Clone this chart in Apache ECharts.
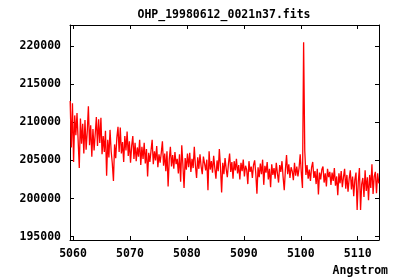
<!DOCTYPE html>
<html>
<head>
<meta charset="utf-8">
<script src="https://cdn.jsdelivr.net/npm/echarts@6/dist/echarts.min.js"></script>
<style>
html,body{margin:0;padding:0;background:#fff;}
#chart{width:400px;height:280px;}
</style>
</head>
<body>
<div id="chart"></div>
<script>
// Spectrum: wavelength grid start and step (Angstrom)
const wavelengthStart = 5059.5;
const wavelengthStep = 0.2;
// Flux values
const flux = [
212800,206700,212500,204800,210900,208300,211200,207600,204000,210500,
207200,209800,205900,210300,206400,208800,212100,207000,209600,205500,
209100,206300,208500,210700,206900,210400,207300,210600,205800,208200,
206100,208900,203000,207700,205400,209000,206200,204600,202300,207100,
205300,208000,209400,206100,209300,205900,207400,204800,208200,206300,
208800,205600,207500,204700,206900,208200,205200,207300,204900,206700,
205500,207700,204400,206800,205200,207300,204600,206500,202900,206000,
204800,206300,207700,204500,206200,205000,206900,204100,205800,204700,
206000,207500,204300,205900,203600,206200,201600,205100,206800,204200,
205700,203900,206100,204500,205200,203300,205800,202200,207000,204400,
201400,205300,203800,205900,204100,206000,203500,205200,204000,206800,
204300,202700,205400,203900,205800,204200,203200,205500,204600,203700,
205100,201100,206200,203800,204900,203400,205600,204000,202600,205000,
203600,206500,204100,200800,204700,203200,205300,203900,202800,204600,
205900,203500,204800,202600,204900,203700,205200,203300,204400,202500,
204700,203600,205100,202900,204300,203800,201900,204900,203500,204200,
202700,204400,205000,203300,200650,204100,202800,204600,203200,205100,
201800,204300,203400,204800,202500,203900,201500,204500,203100,204000,
202600,204700,203300,202100,204400,203500,204900,202800,201100,203800,
205700,203200,204500,202700,204100,203600,202400,204700,203000,204200,
202900,204000,205800,203300,201400,220500,206300,203100,204400,202600,
203800,202300,204100,204800,202700,203600,201900,203900,200550,203400,
202500,203800,204200,202100,203300,201600,203900,202800,203500,201800,
203400,202300,204000,201700,202900,200450,203300,202000,203600,201500,
202800,203900,201300,203100,200900,202600,203700,201200,202900,200300,
202500,203400,198500,202200,204000,198500,201900,202700,200200,203700,
201000,202800,199800,203100,201400,204500,200600,202900,203500,200700,
203300,202000
];
const xTicks = [5060, 5070, 5080, 5090, 5100, 5110];
const yTicks = [195000, 200000, 205000, 210000, 215000, 220000];
const titleText = 'OHP_19980612_0021n37.fits';
const xName = 'Angstrom';

const seriesData = flux.map((v, i) => [wavelengthStart + i * wavelengthStep, v]);

const font = 'DejaVu Sans Mono';
const chart = echarts.init(document.getElementById('chart'), null, {renderer: 'canvas'});
const xMin = 5059.47, xMax = 5113.74, yMin = 194570, yMax = 222750;

function xAx(pos, showLabel) {
  return {
    type: 'value', position: pos, min: xMin, max: xMax,
    axisLine: {show: true, onZero: false, lineStyle: {color: '#000', width: 1}},
    axisTick: {show: true, inside: true, length: 4, customValues: xTicks, lineStyle: {color: '#000'}},
    axisLabel: {show: showLabel, customValues: xTicks, formatter: v => String(Math.round(v)), color: '#000', fontFamily: font, fontWeight: 'bold', fontSize: 11.5, margin: 8},
    splitLine: {show: false}
  };
}
function yAx(pos, showLabel) {
  return {
    type: 'value', position: pos, min: yMin, max: yMax,
    axisLine: {show: true, onZero: false, lineStyle: {color: '#000', width: 1}},
    axisTick: {show: true, inside: true, length: 4, customValues: yTicks, lineStyle: {color: '#000'}},
    axisLabel: {show: showLabel, customValues: yTicks, formatter: v => String(Math.round(v)), color: '#000', fontFamily: font, fontWeight: 'bold', fontSize: 11.5, margin: 9},
    splitLine: {show: false}
  };
}

chart.setOption({
  animation: false,
  backgroundColor: '#fff',
  grid: {left: 70, top: 25, right: 21, bottom: 40, show: false},
  xAxis: [xAx('bottom', true), xAx('top', false)],
  yAxis: [yAx('left', true), yAx('right', false)],
  graphic: [
    {type: 'text', x: 224, y: 15, style: {text: titleText, fill: '#000', font: 'bold 11.5px "DejaVu Sans Mono"', textAlign: 'center', textVerticalAlign: 'middle'}},
    {type: 'text', x: 388, y: 271, style: {text: xName, fill: '#000', font: 'bold 11.5px "DejaVu Sans Mono"', textAlign: 'right', textVerticalAlign: 'middle'}}
  ],
  series: [{
    type: 'line', xAxisIndex: 0, yAxisIndex: 0,
    data: seriesData, showSymbol: false, sampling: 'none',
    lineStyle: {color: '#ff0000', width: 1.3}, clip: true
  }]
});
</script>
</body>
</html>
